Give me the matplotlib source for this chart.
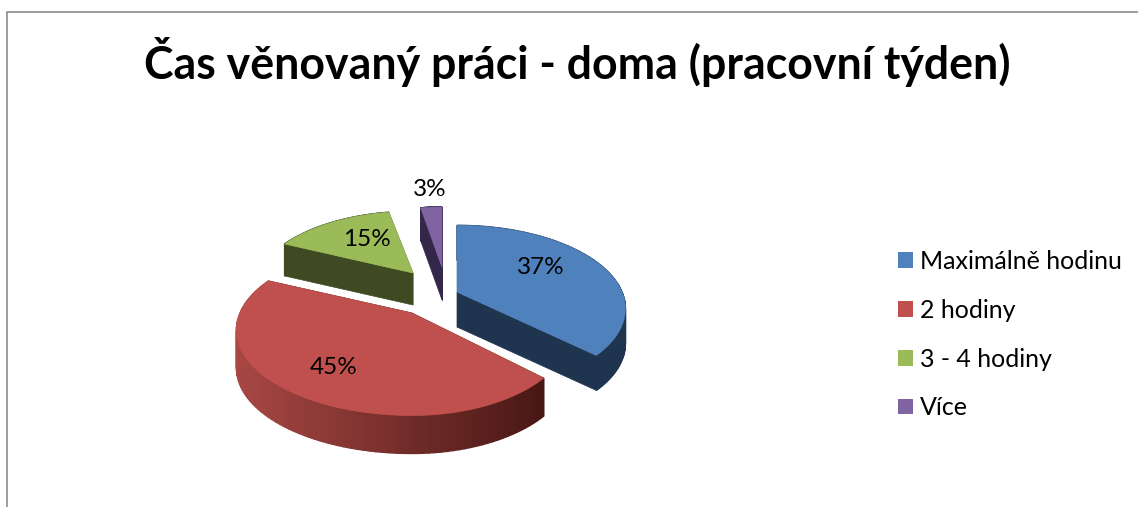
#!/usr/bin/env python3
"""Cas venovany praci - doma: rozlozeny 3D kolac, kresleny rucne v pixelech."""
import numpy as np
import matplotlib
import matplotlib.pyplot as plt
from matplotlib.colors import to_rgb
from matplotlib.patches import Patch, Polygon

matplotlib.use("Agg")
plt.rcParams["font.family"] = ["Lato", "DejaVu Sans"]

TITLE = "Čas věnovaný práci - doma (pracovní týden)"
categories = ["Maximálně hodinu", "2 hodiny", "3 - 4 hodiny", "Více"]
values = [37, 45, 15, 3]

TOP_COLORS = ["#4F81BD", "#C0504D", "#9BBB59", "#8064A2"]
CUT_COLORS = ["#1F344F", "#4A1816", "#3F4A22", "#33274A"]
WALL_LEFT = ["#1F344F", "#A84744", "#3F4A22", "#33274A"]
WALL_RIGHT = ["#1F344F", "#471714", "#3F4A22", "#33274A"]

# rozlozeni (px): vrchol vysece, polomery a popisky
APEX = [(457, 292), (412, 313), (413, 273), (442, 267)]
RADIUS_LEFT = [165, 172, 154, 136]
RADIUS_RIGHT = [165, 156, 154, 136]
RADIUS_Y = [80, 82, 74, 72]
DEPTH = [35, 38, 32, 33]
PERSPECTIVE = 0.2
LABEL_POS = [(541, 267), (334, 368), (367, 239), (430, 190)]
DRAW_ORDER = [2, 3, 0, 1]

W, H = 1138, 507


def project(i, theta):
    # theta po smeru hodin od vrsku
    X, Y = np.sin(theta), np.cos(theta)
    s = 1 / (1 + PERSPECTIVE * Y)
    rx = np.where(X > 0, RADIUS_RIGHT[i], RADIUS_LEFT[i])
    return APEX[i][0] + X * rx * s, APEX[i][1] - Y * RADIUS_Y[i] * s


def draw_slice(ax, i, start, stop):
    theta = np.linspace(start, stop, 90)
    px, py = project(i, theta)
    ax0, ay0 = APEX[i]
    d = DEPTH[i]

    # rezy ke stredu
    for k in (0, -1):
        quad = [(ax0, ay0), (px[k], py[k]), (px[k], py[k] + d), (ax0, ay0 + d)]
        ax.add_patch(Polygon(quad, fc=CUT_COLORS[i], ec=CUT_COLORS[i], lw=0.5))

    # vnejsi stena s prechodem podle x
    left, right = np.array(to_rgb(WALL_LEFT[i])), np.array(to_rgb(WALL_RIGHT[i]))
    span = max(px.max() - px.min(), 1)
    for k in range(len(theta) - 1):
        t = (0.5 * (px[k] + px[k + 1]) - px.min()) / span
        col = left + (right - left) * t
        quad = [(px[k], py[k]), (px[k + 1], py[k + 1]),
                (px[k + 1], py[k + 1] + d), (px[k], py[k] + d)]
        ax.add_patch(Polygon(quad, fc=col, ec=col, lw=1.0))

    # vrchni plocha
    top = np.column_stack([np.r_[ax0, px], np.r_[ay0, py]])
    ax.add_patch(Polygon(top, fc=TOP_COLORS[i], ec=TOP_COLORS[i], lw=0.5))


def main():
    fig = plt.figure(figsize=(W / 100, H / 100), dpi=100)
    ax = fig.add_axes([0, 0, 1, 1])
    ax.set_xlim(0, W)
    ax.set_ylim(H, 0)
    ax.axis("off")

    # ramecek grafu
    ax.plot([7, 7, W + 5], [H + 5, 12, 12], color="#8C8C8C", lw=1.2)

    ax.text(577, 62, TITLE, ha="center", va="center", fontsize=32.1,
            fontweight="bold", color="black")

    edges = np.r_[0, np.cumsum(values)] / sum(values) * 2 * np.pi
    for i in DRAW_ORDER:
        draw_slice(ax, i, edges[i], edges[i + 1])

    for v, (lx, ly) in zip(values, LABEL_POS):
        ax.text(lx, ly, f"{v}%", ha="center", va="center", fontsize=17.5, color="black")

    handles = [Patch(fc=c, ec="none") for c in TOP_COLORS]
    ax.legend(handles, categories, loc="upper left", bbox_to_anchor=(898 / W, 1 - 250 / H),
              frameon=False, fontsize=18, borderpad=0, borderaxespad=0,
              handlelength=0.6, handleheight=0.6, handletextpad=0.28,
              labelspacing=1.03, labelcolor="black")

    fig.savefig("out.png", dpi=100, facecolor="white")


if __name__ == "__main__":
    main()
